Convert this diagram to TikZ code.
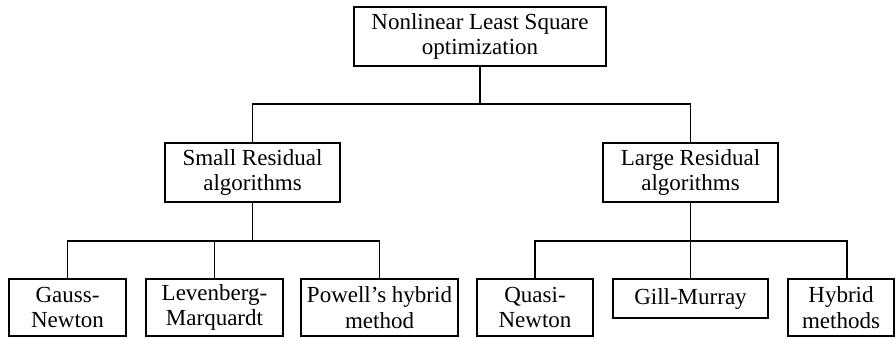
\documentclass[tikz,border=0pt]{standalone}
\usepackage{fontspec}
\setmainfont{Liberation Serif}
\begin{document}
\begin{tikzpicture}[x=1pt,y=-1pt,
  box/.style={draw, line width=1.6pt, inner sep=0pt, align=center,
    font=\fontsize{23}{25.5}\selectfont},
  conn/.style={line width=1.6pt}]
\useasboundingbox (0,0) rectangle (896,338);
\node[box, minimum width=252pt, minimum height=59pt] (top) at (480,36.5) {Nonlinear Least Square\\optimization};
\node[box, minimum width=175pt, minimum height=59pt] (small) at (252.5,172.5) {Small Residual\\algorithms};
\node[box, minimum width=175pt, minimum height=59pt] (large) at (690.5,172.5) {Large Residual\\algorithms};
\node[box, minimum width=117pt, minimum height=57pt] (gauss) at (67.5,307.5) {Gauss-\\Newton};
\node[box, minimum width=137pt, minimum height=57pt] (lev) at (214.5,307.5) {Levenberg-\\Marquardt};
\node[box, minimum width=157pt, minimum height=57pt] (powell) at (379.5,307.5) {Powell's hybrid\\method};
\node[box, minimum width=116pt, minimum height=57pt] (quasi) at (535,307.5) {Quasi-\\Newton};
\node[box, minimum width=155pt, minimum height=39pt] (gill) at (690.5,298.5) {Gill-Murray};
\node[box, minimum width=106pt, minimum height=57pt] (hybrid) at (841,307.5) {Hybrid\\methods};
\coordinate (h1) at (0,104);
\coordinate (h2) at (0,241);
\draw[conn] (top.south) -- (top.south |- h1);
\draw[conn] (small.north) |- (large.north |- h1) -- (large.north);
\draw[conn] (small.south) -- (small.south |- h2);
\draw[conn] (gauss.north) |- (powell.north |- h2) -- (powell.north);
\draw[conn] (lev.north) -- (lev.north |- h2);
\draw[conn] (large.south) -- (large.south |- h2);
\draw[conn] (quasi.north) |- ([xshift=6pt]hybrid.north |- h2) -- ([xshift=6pt]hybrid.north);
\draw[conn] (gill.north) -- (gill.north |- h2);
\end{tikzpicture}
\end{document}
